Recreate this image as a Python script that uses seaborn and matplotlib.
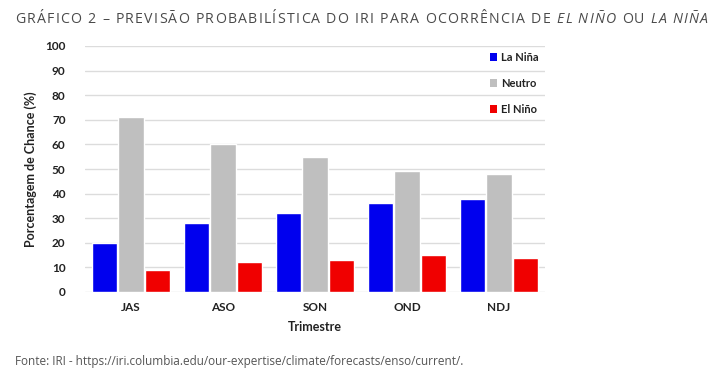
import matplotlib
matplotlib.use("Agg")
import matplotlib.pyplot as plt
import seaborn as sns
import pandas as pd
from matplotlib.patches import Patch
from matplotlib.font_manager import FontProperties

# ---- data ----
trimestres = ["JAS", "ASO", "SON", "OND", "NDJ"]
la_nina = [20, 28, 32, 36, 38]
neutro = [71, 60, 55, 49, 48]
el_nino = [9, 12, 13, 15, 14]
series_names = ["La Niña", "Neutro", "El Niño"]
yticks = [0, 10, 20, 30, 40, 50, 60, 70, 80, 90, 100]

colors = {"La Niña": "#0000ee", "Neutro": "#bfbfbf", "El Niño": "#f00000"}

df = pd.DataFrame({
    "Trimestre": trimestres * 3,
    "Valor": la_nina + neutro + el_nino,
    "Serie": [s for s in series_names for _ in trimestres],
})

sns.set_theme(style="white")
plt.rcParams["font.family"] = ["Lato", "DejaVu Sans"]

W, H = 724, 377
fig = plt.figure(figsize=(W / 100, H / 100), dpi=100)
ax = fig.add_axes([85 / W, 85 / H, 460 / W, 246 / H])

sns.barplot(data=df, x="Trimestre", y="Valor", hue="Serie", order=trimestres,
            hue_order=series_names, palette=colors, width=0.86, gap=0.03,
            saturation=1, ax=ax, legend=False, zorder=3)

ax.set_ylim(0, 100)
ax.set_xlim(-0.5, 4.5)
ax.set_yticks(yticks)
ax.yaxis.grid(True, color="#dcdcdc", lw=1, zorder=0)
ax.set_axisbelow(True)
for s in ax.spines.values():
    s.set_visible(False)
ax.tick_params(axis="both", length=0, labelsize=8.5, colors="#222222")
ax.tick_params(axis="y", pad=14)
ax.tick_params(axis="x", pad=7)
for lab in ax.get_xticklabels() + ax.get_yticklabels():
    lab.set_fontweight("bold")
ax.set_xlabel("Trimestre", fontsize=9, fontweight="bold", color="#222222", labelpad=6)
ax.set_ylabel("Porcentagem de Chance (%)", fontsize=9, fontweight="bold",
              color="#222222", labelpad=6)

handles = [Patch(facecolor=colors[s], edgecolor="none") for s in series_names]
leg = ax.legend(handles, series_names, loc="upper right", bbox_to_anchor=(0.995, 0.995),
                frameon=False, fontsize=8, handlelength=0.7, handleheight=0.7,
                handletextpad=0.3, labelspacing=1.35, borderaxespad=0)
for t in leg.get_texts():
    t.set_fontweight("bold")
    t.set_color("#222222")

# ---- title with letter spacing ----
renderer = fig.canvas.get_renderer()
segments = [
    ("GRÁFICO 2 – PREVISÃO PROBABILÍSTICA DO IRI PARA OCORRÊNCIA DE ", "normal"),
    ("EL NIÑO", "italic"),
    (" OU ", "normal"),
    ("LA NIÑA", "italic"),
]
tsize = 10.2
tcolor = "#4a4a4a"
def tw(s, style):
    fp = FontProperties(family="Open Sans", size=tsize, style=style)
    w, h, d = renderer.get_text_width_height_descent(s, fp, ismath=False)
    return w
nat = sum(tw(s, st) for s, st in segments)
nchars = sum(len(s) for s, _ in segments)
x_start, x_end = 15, 708
sp = (x_end - x_start - nat) / (nchars - 1)
x = x_start
for s, st in segments:
    for k, ch in enumerate(s):
        cx = x + tw(s[:k], st) + k * sp
        fig.text(cx / W, 1 - 23 / H, ch, fontsize=tsize, family="Open Sans",
                 style=st, color=tcolor, ha="left", va="baseline")
    x = x + tw(s, st) + len(s) * sp

fig.text(15 / W, 1 - 365 / H,
         "Fonte: IRI - https://iri.columbia.edu/our-expertise/climate/forecasts/enso/current/.",
         fontsize=8.5, family="Open Sans", color="#555555", ha="left", va="baseline")

fig.savefig("out.png", dpi=100)
